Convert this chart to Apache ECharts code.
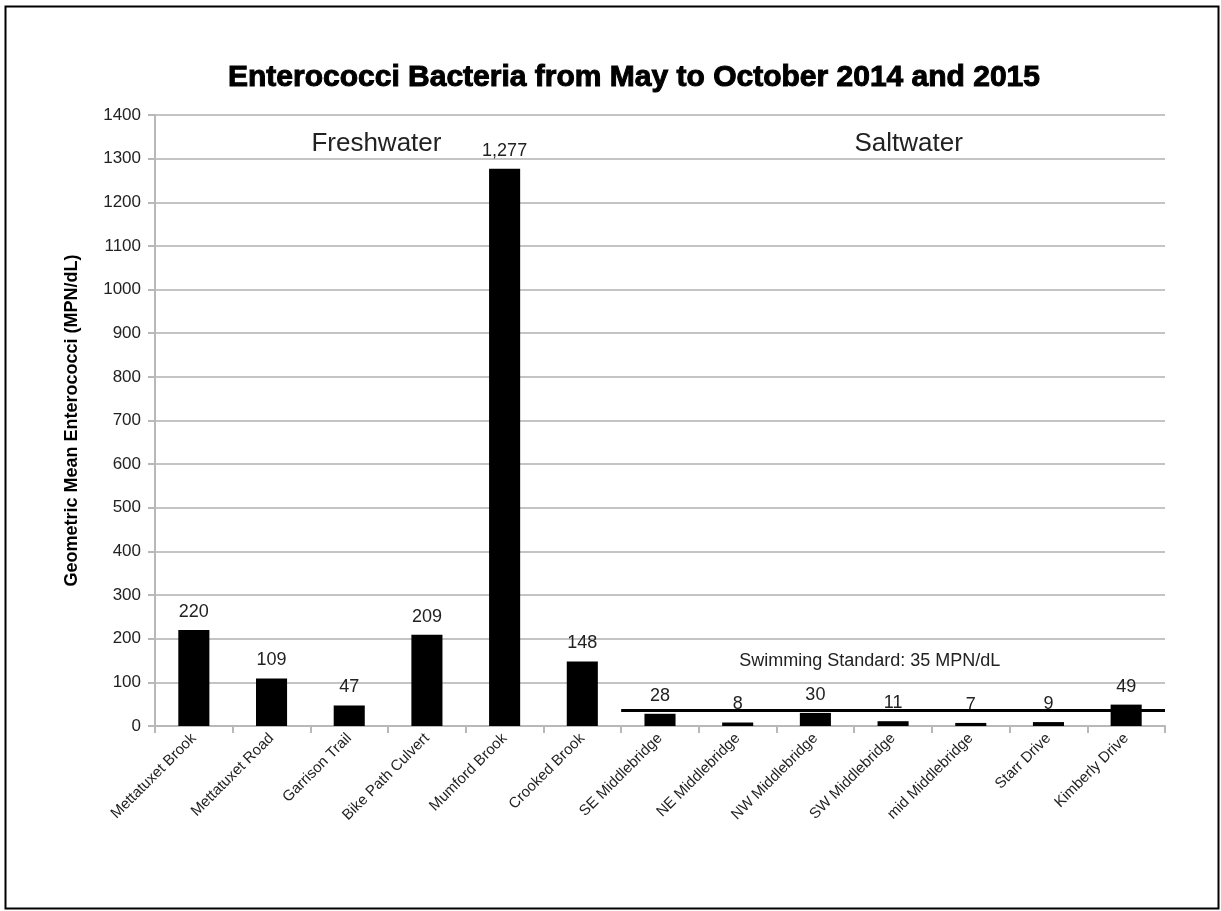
<!DOCTYPE html>
<html>
<head>
<meta charset="utf-8">
<script src="https://cdn.jsdelivr.net/npm/echarts@6/dist/echarts.min.js"></script>
<style>
html, body { margin: 0; padding: 0; background: #fff; }
#chart { width: 1221px; height: 911px; }
</style>
</head>
<body>
<div id="chart"></div>
<script>
// sites along the x axis
var sites = ['Mettatuxet Brook', 'Mettatuxet Road', 'Garrison Trail', 'Bike Path Culvert',
    'Mumford Brook', 'Crooked Brook', 'SE Middlebridge', 'NE Middlebridge', 'NW Middlebridge',
    'SW Middlebridge', 'mid Middlebridge', 'Starr Drive', 'Kimberly Drive'];
// geometric mean enterococci, MPN/dL
var geoMean = [220, 109, 47, 209, 1277, 148, 28, 8, 30, 11, 7, 9, 49];
var swimStandard = 35;
var freshCount = 6;   // first 6 sites are freshwater
var yTicks = {min: 0, max: 1400, interval: 100};

var font = 'Liberation Sans';
var dom = document.getElementById('chart');
var myChart = echarts.init(dom);

var frame = {
    type: 'rect',
    left: 3,
    top: 4,
    shape: {width: 1213, height: 902},
    style: {fill: 'none', stroke: '#000', lineWidth: 2}
};

var option = {
    backgroundColor: '#fff',
    animation: false,
    textStyle: {fontFamily: font},
    title: {
        text: 'Enterococci Bacteria from May to October 2014 and 2015',
        left: 629,
        textAlign: 'center',
        top: 58,
        textStyle: {
            fontFamily: font, fontSize: 30, fontWeight: 'bold', color: '#000',
            textBorderColor: '#000', textBorderWidth: 1
        }
    },
    grid: {left: 155, right: 56, top: 115, bottom: 185},
    xAxis: [{
        type: 'category',
        data: sites,
        axisLine: {lineStyle: {color: '#b8b8b8', width: 2}},
        axisTick: {show: true, length: 7, lineStyle: {color: '#b8b8b8', width: 2}},
        axisLabel: {rotate: 45, fontSize: 15, color: '#222', margin: 10, interval: 0}
    }, {
        // hidden helper axis so the divider lines sit on category boundaries
        type: 'value',
        min: 0,
        max: sites.length,
        show: false
    }],
    yAxis: {
        type: 'value',
        min: yTicks.min,
        max: yTicks.max,
        interval: yTicks.interval,
        name: 'Geometric Mean Enterococci (MPN/dL)',
        nameLocation: 'middle',
        nameGap: 74,
        nameTextStyle: {fontSize: 18, fontWeight: 'bold', color: '#000'},
        axisLine: {show: true, lineStyle: {color: '#b8b8b8', width: 2}},
        axisTick: {show: true, length: 7, lineStyle: {color: '#b8b8b8', width: 2}},
        axisLabel: {
            fontSize: 17, color: '#222', margin: 14,
            formatter: function (v) { return String(v); }
        },
        splitLine: {lineStyle: {color: '#c4c4c4', width: 2}}
    },
    series: [{
        name: 'geomean',
        type: 'bar',
        data: geoMean,
        barWidth: '40%',
        itemStyle: {color: '#000'},
        label: {
            show: true,
            position: 'top',
            distance: 9,
            fontSize: 18,
            color: '#222',
            formatter: function (p) {
                return p.value.toLocaleString('en-US');
            }
        }
    }, {
        name: 'standard',
        type: 'line',
        xAxisIndex: 1,
        data: [],
        markLine: {
            silent: true,
            symbol: 'none',
            animation: false,
            lineStyle: {color: '#000', width: 3, type: 'solid'},
            label: {show: false},
            data: [
                [{coord: [freshCount, swimStandard]}, {coord: [sites.length, swimStandard]}]
            ]
        }
    }],
    graphic: [frame]
};
myChart.setOption(option, true);

// freshwater / saltwater divider and region labels, placed through the axes
function px(x, y) {
    return myChart.convertToPixel({xAxisIndex: 1, yAxisIndex: 0}, [x, y]);
}
var top = px(freshCount, yTicks.max);
var bot = px(freshCount, yTicks.min);
var freshMid = px(2.85, 1333);
var saltMid = px(9.7, 1333);
var stdMid = px(9.2, 150);
myChart.setOption({
    graphic: [frame, {
        type: 'line',
        shape: {x1: top[0], y1: top[1] - 10, x2: bot[0], y2: bot[1] + 9},
        style: {stroke: '#000', lineWidth: 3},
        z: 10
    }, {
        type: 'text',
        x: freshMid[0],
        y: freshMid[1],
        style: {text: 'Freshwater', fontFamily: font, fontSize: 26, fill: '#222',
            align: 'center', verticalAlign: 'middle'}
    }, {
        type: 'text',
        x: saltMid[0],
        y: saltMid[1],
        style: {text: 'Saltwater', fontFamily: font, fontSize: 26, fill: '#222',
            align: 'center', verticalAlign: 'middle'}
    }, {
        type: 'text',
        x: stdMid[0],
        y: stdMid[1],
        style: {text: 'Swimming Standard: 35 MPN/dL', fontFamily: font, fontSize: 18, fill: '#222',
            align: 'center', verticalAlign: 'middle'}
    }]
}, {replaceMerge: ['graphic']});
</script>
</body>
</html>
